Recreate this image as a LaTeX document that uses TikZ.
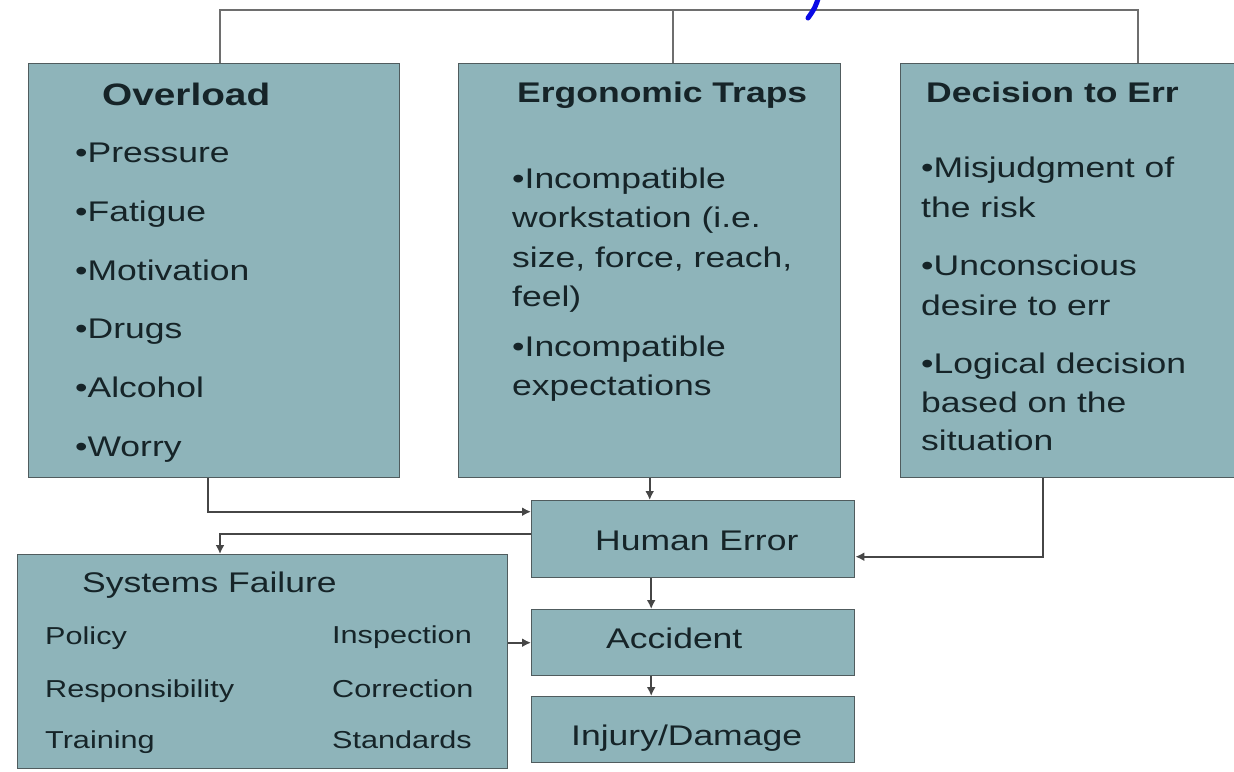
\documentclass[tikz,border=0pt]{standalone}
\usepackage{fontspec}
\setmainfont{Liberation Sans}[FakeStretch=1.25]
\usetikzlibrary{arrows.meta,calc}
\definecolor{boxfill}{RGB}{142,180,186}
\definecolor{boxline}{RGB}{80,92,94}
\definecolor{linec}{RGB}{70,70,70}
\definecolor{busc}{RGB}{110,110,110}
\definecolor{textc}{RGB}{22,36,40}
\definecolor{titleblue}{RGB}{10,10,230}
\tikzset{
  boxnode/.style={draw=boxline, line width=1.4pt, fill=boxfill, anchor=north west, inner sep=0pt, rectangle},
  txt/.style={anchor=base west, inner sep=0pt, text=textc, font=\fontsize{28.4}{34}\selectfont},
  ttl/.style={txt, font=\fontsize{28.4}{34}\selectfont\bfseries},
  small/.style={txt, font=\fontsize{24.5}{30}\selectfont},
  arr/.style={draw=linec, line width=2.4pt, -{Latex[length=9pt,width=9pt]}},
  busline/.style={draw=busc, line width=2pt}
}
\begin{document}
\begin{tikzpicture}[x=1pt,y=-1pt]
\useasboundingbox (0,0) rectangle (1234,771);
\fill[white] (0,0) rectangle (1234,771);
\clip (0,0) rectangle (1234,771);

% boxes
\node[boxnode, minimum width=371pt, minimum height=414pt] (overload) at (28,63) {};
\node[boxnode, minimum width=382pt, minimum height=414pt] (ergo) at (458,63) {};
\node[boxnode, minimum width=340pt, minimum height=414pt] (decision) at (900,63) {};
\node[boxnode, minimum width=323pt, minimum height=77pt] (human) at (531,500) {};
\node[boxnode, minimum width=490pt, minimum height=214pt] (systems) at (17,554) {};
\node[boxnode, minimum width=323pt, minimum height=66pt] (accident) at (531,609) {};
\node[boxnode, minimum width=323pt, minimum height=66pt] (injury) at (531,696) {};

% top bus
\draw[busline] ([xshift=192pt]overload.north west) -- ++(0,-53) -| ([xshift=238pt]decision.north west);
\draw[busline] ([xshift=215pt]ergo.north west) -- ++(0,-53);

% cut-off fragment of the title above the picture
\draw[titleblue, line width=5pt, line cap=round] (819,-4) .. controls (815,8) .. (808,18);

% Overload text
\node[ttl, font=\fontsize{31}{36}\selectfont\bfseries] (ovt) at (102,105) {Overload};
\node[txt] (ov1) at (75,162) {•Pressure};
\node[txt] (ov2) at (75,221) {•Fatigue};
\node[txt] (ov3) at (75,280) {•Motivation};
\node[txt] (ov4) at (75,338) {•Drugs};
\node[txt] (ov5) at (75,397) {•Alcohol};
\node[txt] (ov6) at (75,456) {•Worry};

% Ergonomic text
\node[ttl] (ert) at (517,102) {Ergonomic Traps};
\node[txt] (er1) at (512,188) {•Incompatible};
\node[txt] (er2) at (512,227) {workstation (i.e.};
\node[txt] (er3) at (512,267) {size, force, reach,};
\node[txt] (er4) at (512,306) {feel)};
\node[txt] (er5) at (512,356) {•Incompatible};
\node[txt] (er6) at (512,395) {expectations};

% Decision text
\node[ttl] (det) at (926,102) {Decision to Err};
\node[txt] (de1) at (921,177) {•Misjudgment of};
\node[txt] (de2) at (921,217) {the risk};
\node[txt] (de3) at (921,275) {•Unconscious};
\node[txt] (de4) at (921,315) {desire to err};
\node[txt] (de5) at (921,373) {•Logical decision};
\node[txt] (de6) at (921,412) {based on the};
\node[txt] (de7) at (921,450) {situation};

% Systems failure text
\node[txt] (syt) at (82,592) {Systems Failure};
\node[small] (sy1) at (45,644) {Policy};
\node[small] (sy2) at (45,697) {Responsibility};
\node[small] (sy3) at (45,748) {Training};
\node[small] (sy4) at (332,643) {Inspection};
\node[small] (sy5) at (332,697) {Correction};
\node[small] (sy6) at (332,748) {Standards};

% single-line boxes
\node[txt] (het) at (595,550) {Human Error};
\node[txt] (act) at (606,648) {Accident};
\node[txt] (ijt) at (571,745) {Injury/Damage};

% connectors
\draw[arr] ([xshift=180pt]overload.south west) |- ([yshift=27.5pt]human.west);
\draw[arr] (ergo.south) -- (ergo.south |- human.north);
\draw[arr] ([xshift=143pt]decision.south west) |- ([yshift=-17.5pt]human.east);
\draw[arr] ([yshift=5.5pt]human.west) -| ([xshift=203pt]systems.north west);
\draw[arr] ([xshift=-42pt]human.south) -- ([xshift=-42pt]accident.north);
\draw[arr] (systems.east |- accident.west) -- (accident.west);
\draw[arr] ([xshift=-42pt]accident.south) -- ([xshift=-42pt]injury.north);
\end{tikzpicture}
\end{document}
